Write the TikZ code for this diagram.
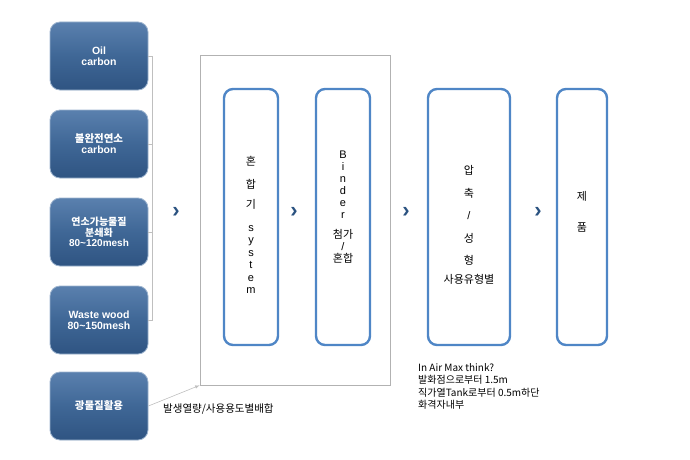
\documentclass[tikz,border=0pt]{standalone}
\usepackage{fontspec}
\setmainfont{Liberation Sans}
\newfontfamily\kr{Noto Sans CJK KR}
\definecolor{boxtop}{HTML}{5A80AE}
\definecolor{boxmid}{HTML}{3F6796}
\definecolor{boxbot}{HTML}{2F5482}
\definecolor{stageblue}{HTML}{4F86C6}
\definecolor{chevc}{HTML}{2A5280}
\begin{document}
\begin{tikzpicture}[x=1pt,y=-1pt,
  src/.style={draw=boxtop!60!white,line width=0.8pt,top color=boxtop,bottom color=boxbot,middle color=boxmid,rounded corners=10pt,minimum width=98pt,minimum height=68pt,text=white,align=center,font=\bfseries\fontsize{10.5}{11}\selectfont,inner sep=1pt},
  stage/.style={draw=stageblue,line width=2.4pt,fill=white,rounded corners=9pt,inner sep=0pt},
  chev/.style={text=chevc,font=\fontsize{22}{22}\selectfont\bfseries},
  lbl/.style={font=\fontsize{11}{12.5}\selectfont,align=center,inner sep=0pt},
  conn/.style={draw=gray!50,line width=0.6pt}]
\useasboundingbox (0,0) rectangle (690,460);
\node[src] (s1) at (99,56) {Oil\\carbon};
\node[src] (s2) at (99,144) {{\kr 불완전연소}\\carbon};
\node[src,font=\bfseries\fontsize{10}{10.5}\selectfont] (s3) at (99,232) {{\kr 연소가능물질}\\{\kr 분쇄화}\\80\textasciitilde120mesh};
\node[src] (s4) at (99,320) {Waste wood\\80\textasciitilde150mesh};
\node[src] (s5) at (99,406) {\kr 광물질활용};
\coordinate (b1) at (152,56);
\coordinate (b4) at (152,320);
\draw[conn] (s1.east) -- (b1) -- (b4) -- (s4.east);
\draw[conn] (s2.east) -- (152,144);
\draw[conn] (s3.east) -- (152,232);
\node[chev] (c0) at (176,212) {›};
\node[draw=gray!60,line width=0.6pt,minimum width=190pt,minimum height=330pt] (frame) at (295,220) {};
\draw[conn,-latex] (s5.east) -- (frame.south west);
\node[stage,minimum width=54pt,minimum height=256pt] (A) at (251,217) {};
\node[stage,minimum width=54pt,minimum height=256pt] (B) at (343,217) {};
\node[stage,minimum width=82pt,minimum height=256pt] (C) at (469,217) {};
\node[stage,minimum width=50pt,minimum height=256pt] (D) at (582,217) {};
\node[chev] (c1) at (294,212) {›};
\node[chev] (c2) at (406,212) {›};
\node[chev] (c3) at (538,212) {›};
\node[lbl] (ta) at (251,225) {{\kr 혼}\\[10pt]{\kr 합}\\[8pt]{\kr 기}\\[10pt]s\\y\\s\\t\\e\\m};
\node[lbl,font=\fontsize{11}{12}\selectfont] (tb) at (343,207) {B\\i\\n\\d\\e\\r\\[8pt]{\kr 첨가}\\/\\{\kr 혼합}};
\node[lbl] (tc) at (469,225) {{\kr 압}\\[10pt]{\kr 축}\\[10pt]/\\[10pt]{\kr 성}\\[10pt]{\kr 형}\\[6pt]{\kr 사용유형별}};
\node[lbl] (td) at (582,212) {{\kr 제}\\[18pt]{\kr 품}};
\node[lbl,anchor=west,font=\kr\fontsize{10.5}{12}\selectfont] (note1) at (163,409) {발생열량/사용용도별배합};
\node[lbl,anchor=north west,align=left,font=\kr\fontsize{10}{12.5}\selectfont] (note2) at (418,363) {In Air Max think?\\발화점으로부터 1.5m\\직가열Tank로부터 0.5m하단\\화격자내부};
\end{tikzpicture}
\end{document}
